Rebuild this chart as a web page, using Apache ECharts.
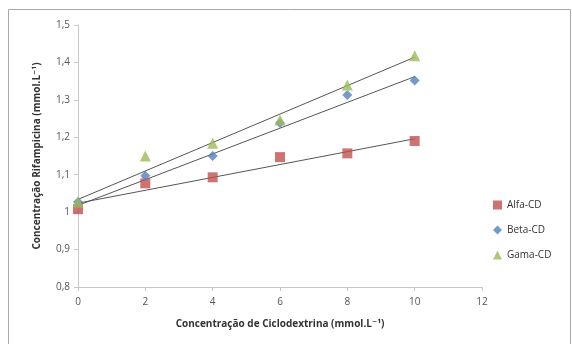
<!DOCTYPE html>
<html><head><meta charset="utf-8">
<script src="https://cdn.jsdelivr.net/npm/echarts@6/dist/echarts.min.js"></script>
<style>html,body{margin:0;padding:0;background:#fff}#c{width:572px;height:344px}</style>
</head><body><div id="c"></div>
<script>
const xValues = [0, 2, 4, 6, 8, 10];
const alfa = [1.008, 1.077, 1.093, 1.147, 1.157, 1.19];
const beta = [1.027, 1.097, 1.15, 1.238, 1.313, 1.352];
const gama = [1.027, 1.15, 1.184, 1.246, 1.34, 1.418];
// trendline endpoints (x=0 and x=10)
const trendX = [0, 10];
const alfaTrend = [1.024, 1.196];
const betaTrend = [1.018, 1.362];
const gamaTrend = [1.034, 1.414];
const yTicks = {1.5:'1,5',1.4:'1,4',1.3:'1,3',1.2:'1,2',1.1:'1,1',1:'1',0.9:'0,9',0.8:'0,8'};

const pts = (xs, ys) => xs.map((x, i) => [x, ys[i]]);
const font = 'Open Sans, DejaVu Sans, sans-serif';
const trend = (d) => ({type:'line', data: pts(trendX, d), symbol:'none', silent:true,
  lineStyle:{color:'#555', width:1}, z:1, legendHoverLink:false});

const chart = echarts.init(document.getElementById('c'));
chart.setOption({
  animation:false,
  grid:{left:78, right:90, top:25, bottom:57},
  graphic:[{type:'rect', shape:{x:8.5, y:9.5, width:562, height:340}, style:{fill:'none', stroke:'#a8a8a8', lineWidth:1}, silent:true}],
  legend:{
    orient:'vertical', left:488, top:195, itemGap:15, itemWidth:9, itemHeight:9,
    textStyle:{fontFamily:font, fontSize:10, color:'#333'},
    data:['Alfa-CD','Beta-CD','Gama-CD']
  },
  xAxis:{
    type:'value', min:0, max:12, interval:2,
    name:'Concentração de Ciclodextrina (mmol.L⁻¹)', nameLocation:'middle', nameGap:32,
    nameTextStyle:{fontFamily:font, fontSize:10, fontWeight:'bold', color:'#333'},
    axisLine:{show:true, lineStyle:{color:'#c8c8c8'}},
    axisTick:{show:true, length:4, lineStyle:{color:'#c8c8c8'}},
    axisLabel:{fontFamily:font, fontSize:10, color:'#555', margin:10},
    splitLine:{show:false}
  },
  yAxis:{
    type:'value', min:0.8, max:1.5, interval:0.1,
    name:'Concentração Rifampicina (mmol.L⁻¹)', nameLocation:'middle', nameGap:36, nameRotate:90,
    nameTextStyle:{fontFamily:font, fontSize:10, fontWeight:'bold', color:'#333'},
    axisLine:{show:true, lineStyle:{color:'#c8c8c8'}},
    axisTick:{show:true, length:4, lineStyle:{color:'#c8c8c8'}},
    axisLabel:{fontFamily:font, fontSize:10, color:'#555', margin:8,
      formatter:v => yTicks[Math.round(v*10)/10] ?? String(v).replace('.', ',')},
    splitLine:{show:false}
  },
  series:[
    trend(alfaTrend), trend(betaTrend), trend(gamaTrend),
    {name:'Alfa-CD', type:'scatter', data:pts(xValues, alfa), symbol:'rect', symbolSize:10, itemStyle:{color:'#C0504D'}, z:3},
    {name:'Beta-CD', type:'scatter', data:pts(xValues, beta), symbol:'diamond', symbolSize:10, itemStyle:{color:'#4F81BD'}, z:3},
    {name:'Gama-CD', type:'scatter', data:pts(xValues, gama), symbol:'triangle', symbolSize:11, itemStyle:{color:'#9BBB59'}, z:3}
  ]
});
</script></body></html>
